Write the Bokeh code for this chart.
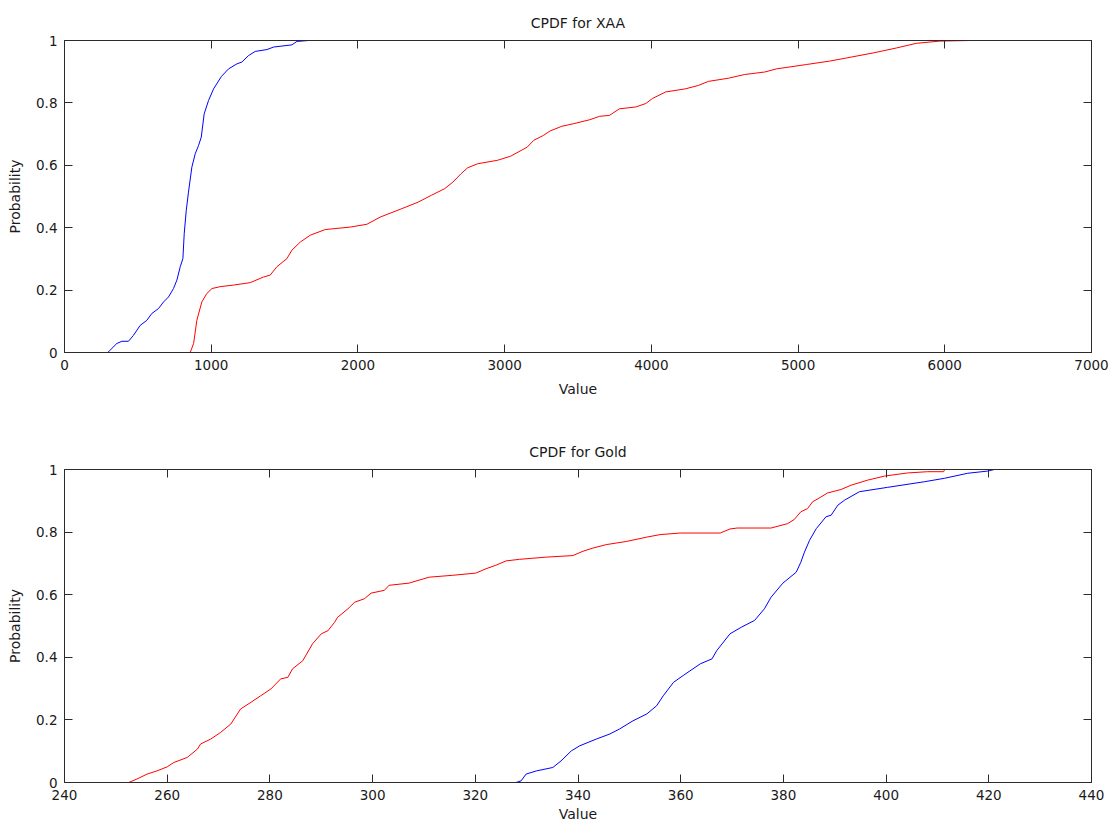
from bokeh.plotting import figure
from bokeh.layouts import column
from bokeh.models import LinearAxis, FixedTicker, Range1d
from bokeh.embed import file_html
from bokeh.resources import INLINE

# ---------------- data ----------------
xaa_title = "CPDF for XAA"
gold_title = "CPDF for Gold"
x_label = "Value"
y_label = "Probability"

xaa_x_ticks = [0, 1000, 2000, 3000, 4000, 5000, 6000, 7000]
gold_x_ticks = [240, 260, 280, 300, 320, 340, 360, 380, 400, 420, 440]
y_ticks = [0, 0.2, 0.4, 0.6, 0.8, 1]
y_tick_labels = ["0", "0.2", "0.4", "0.6", "0.8", "1"]

# XAA, blue series
xaa_blue_x = [295, 357, 391, 436, 470, 516, 561, 595, 641, 675, 709, 743, 766, 789, 807,
              816, 830, 845, 868, 891, 914, 932, 952, 982, 1016, 1070, 1118, 1175, 1209,
              1255, 1300, 1380, 1425, 1550, 1584, 1664]
xaa_blue_y = [0, 0.029, 0.036, 0.036, 0.055, 0.087, 0.103, 0.125, 0.141, 0.162, 0.178, 0.205,
              0.232, 0.275, 0.301, 0.381, 0.456, 0.514, 0.594, 0.637, 0.664, 0.690, 0.765,
              0.808, 0.845, 0.885, 0.909, 0.925, 0.931, 0.952, 0.965, 0.971, 0.979, 0.986,
              0.997, 1.0]

# XAA, red series
xaa_red_x = [857, 880, 902, 936, 970, 1005, 1061, 1152, 1266, 1357, 1402, 1448, 1516, 1550,
             1607, 1675, 1777, 1948, 2061, 2152, 2299, 2411, 2501, 2591, 2647, 2703, 2748,
             2816, 2951, 3040, 3153, 3198, 3265, 3310, 3389, 3467, 3580, 3647, 3715, 3782,
             3894, 3962, 4007, 4097, 4231, 4321, 4389, 4524, 4636, 4773, 4852, 5057, 5216,
             5330, 5511, 5670, 5807, 5966, 6170, 6352]
xaa_red_y = [0, 0.029, 0.103, 0.162, 0.189, 0.205, 0.211, 0.216, 0.224, 0.242, 0.248, 0.275,
             0.301, 0.328, 0.354, 0.376, 0.394, 0.402, 0.411, 0.434, 0.461, 0.482, 0.504,
             0.525, 0.546, 0.573, 0.592, 0.605, 0.616, 0.629, 0.658, 0.680, 0.696, 0.710,
             0.725, 0.733, 0.746, 0.757, 0.760, 0.781, 0.787, 0.798, 0.814, 0.835, 0.845,
             0.856, 0.869, 0.879, 0.891, 0.899, 0.909, 0.923, 0.934, 0.944, 0.960, 0.976,
             0.991, 0.998, 1.0, 1.0]

# Gold, red series
gold_red_x = [252.5, 254.1, 256.1, 258.0, 260.0, 261.3, 263.9, 265.9, 266.5, 268.5, 270.4,
              272.4, 274.3, 276.3, 278.2, 280.2, 282.1, 283.5, 284.4, 286.4, 288.3, 290.0,
              291.3, 292.6, 293.2, 295.2, 296.5, 298.4, 299.7, 302.3, 303.2, 307.1, 311.0,
              315.6, 320.1, 322.1, 324.0, 326.0, 328.6, 333.8, 339.0, 341.0, 342.9, 345.5,
              349.4, 353.4, 356.0, 359.9, 367.7, 369.6, 371.0, 377.6, 380.8, 382.1, 383.4,
              384.7, 385.7, 387.3, 388.6, 391.2, 393.2, 396.4, 399.7, 404.2, 408.1, 411.2,
              411.4]
gold_red_y = [0, 0.011, 0.027, 0.037, 0.050, 0.064, 0.080, 0.107, 0.123, 0.139, 0.160, 0.187,
              0.235, 0.256, 0.277, 0.299, 0.331, 0.336, 0.363, 0.389, 0.443, 0.475, 0.485,
              0.512, 0.528, 0.555, 0.576, 0.587, 0.605, 0.614, 0.630, 0.637, 0.656, 0.662,
              0.669, 0.683, 0.694, 0.708, 0.713, 0.720, 0.725, 0.739, 0.749, 0.760, 0.770,
              0.784, 0.792, 0.797, 0.797, 0.810, 0.813, 0.813, 0.827, 0.840, 0.865, 0.875,
              0.897, 0.912, 0.925, 0.936, 0.950, 0.966, 0.979, 0.989, 0.993, 0.993, 1.0]

# Gold, blue series
gold_blue_x = [327.9, 328.9, 329.9, 331.9, 335.1, 336.7, 338.7, 340.3, 343.6, 346.2, 348.1,
               350.7, 353.4, 355.3, 356.6, 358.6, 360.5, 363.8, 366.1, 367.0, 369.6, 371.8,
               374.4, 376.3, 377.6, 379.9, 382.5, 383.4, 384.1, 385.1, 386.4, 388.3, 389.3,
               390.6, 391.9, 394.8, 400.3, 407.5, 411.4, 415.9, 419.8, 421.1, 423.4]
gold_blue_y = [0, 0.005, 0.027, 0.037, 0.048, 0.069, 0.101, 0.117, 0.139, 0.155, 0.171, 0.197,
               0.219, 0.245, 0.277, 0.320, 0.342, 0.379, 0.395, 0.421, 0.475, 0.496, 0.518,
               0.555, 0.592, 0.637, 0.672, 0.704, 0.736, 0.774, 0.811, 0.849, 0.854, 0.886,
               0.902, 0.929, 0.943, 0.961, 0.972, 0.988, 0.995, 1.0, 1.0]

# ---------------- styling ----------------
FONT = "DejaVu Sans"
TXT = "#1a1a1a"
AX = "#2b2b2b"


def style_axis(ax, ticks, overrides=None, show_labels=True):
    ax.ticker = FixedTicker(ticks=ticks)
    ax.major_tick_in = 8
    ax.major_tick_out = 0
    ax.minor_tick_line_color = None
    ax.axis_line_color = AX
    ax.major_tick_line_color = AX
    ax.major_label_text_font = FONT
    ax.major_label_text_color = TXT
    if show_labels:
        ax.major_label_text_font_size = "13.5px"
        ax.major_label_standoff = 7
        if overrides:
            ax.major_label_overrides = overrides
    else:
        ax.major_label_text_font_size = "1px"
        ax.major_label_text_alpha = 0
        ax.major_label_standoff = 0


def make_panel(title, x_start, x_end, x_ticks, height, top, bottom, xlab_standoff):
    p = figure(width=1109, height=height, x_range=Range1d(x_start, x_end),
               y_range=Range1d(0, 1), output_backend="svg", toolbar_location=None,
               min_border_left=64, min_border_right=18, min_border_top=top,
               min_border_bottom=bottom, title=title)
    p.background_fill_color = "white"
    p.border_fill_color = "white"
    p.outline_line_color = AX
    p.grid.visible = False
    p.title.align = "center"
    p.title.text_font = FONT
    p.title.text_font_size = "14px"
    p.title.text_font_style = "normal"
    p.title.text_color = TXT
    p.title.standoff = 20

    y_over = {t: s for t, s in zip(y_ticks, y_tick_labels)}
    style_axis(p.xaxis[0], x_ticks)
    style_axis(p.yaxis[0], y_ticks, y_over)
    p.xaxis[0].axis_label = x_label
    p.yaxis[0].axis_label = y_label
    for ax in (p.xaxis[0], p.yaxis[0]):
        ax.axis_label_text_font = FONT
        ax.axis_label_text_font_size = "14px"
        ax.axis_label_text_font_style = "normal"
        ax.axis_label_text_color = TXT
    p.xaxis[0].axis_label_standoff = xlab_standoff
    p.yaxis[0].axis_label_standoff = 10

    top_ax = LinearAxis()
    style_axis(top_ax, x_ticks, show_labels=False)
    p.add_layout(top_ax, "above")
    right_ax = LinearAxis()
    style_axis(right_ax, y_ticks, show_labels=False)
    p.add_layout(right_ax, "right")
    return p


p1 = make_panel(xaa_title, 0, 7000, xaa_x_ticks, 412, 40, 60, 8)
p1.line(xaa_blue_x, xaa_blue_y, line_color="#0000ff", line_width=1)
p1.line(xaa_red_x, xaa_red_y, line_color="#ff0000", line_width=1)

p2 = make_panel(gold_title, 240, 440, gold_x_ticks, 412, 57, 42, 3)
p2.line(gold_red_x, gold_red_y, line_color="#ff0000", line_width=1)
p2.line(gold_blue_x, gold_blue_y, line_color="#0000ff", line_width=1)

layout = column(p1, p2, spacing=0)
open("out.html", "w").write(file_html(layout, INLINE))
